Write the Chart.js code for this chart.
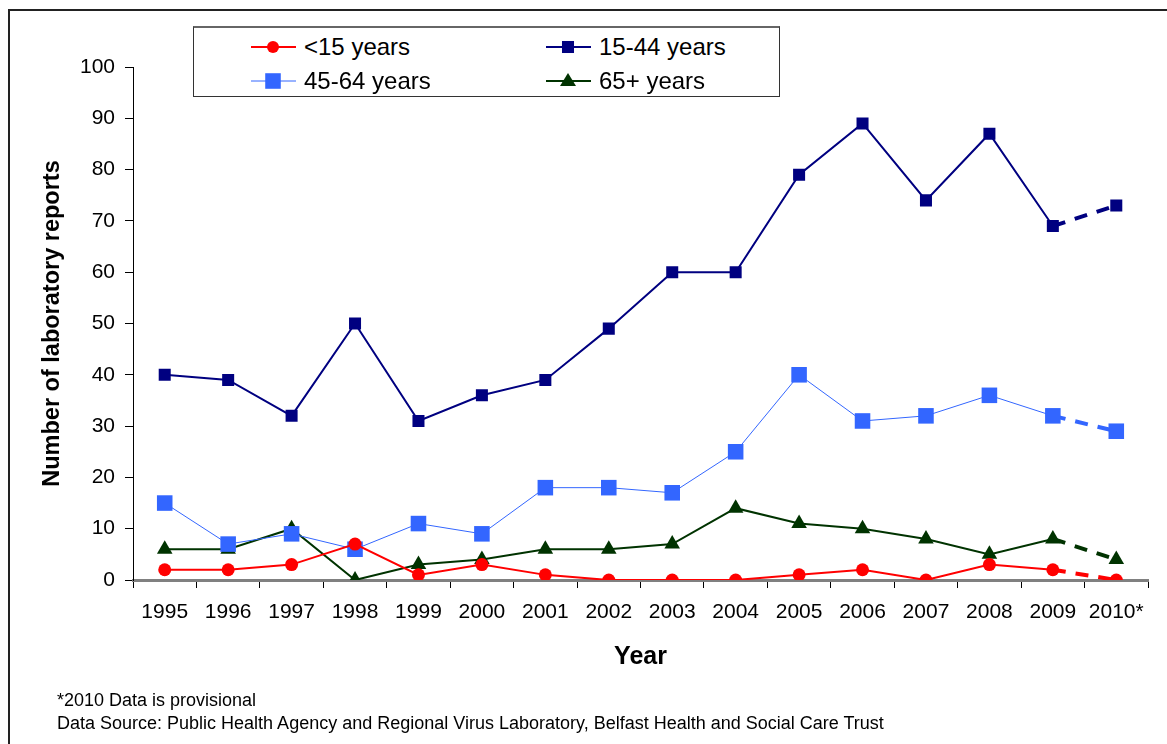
<!DOCTYPE html>
<html>
<head>
<meta charset="utf-8">
<script src="https://cdn.jsdelivr.net/npm/chart.js@4"></script>
<style>
  body { margin: 0; background: #fff; font-family: Arial, "Liberation Sans", sans-serif; }
  #wrap { position: relative; width: 1167px; height: 744px; overflow: hidden; }
  #frame { position: absolute; left: 8px; top: 9px; width: 1300px; height: 900px; border-left: 2px solid #222; border-top: 2px solid #222; }
  #legendBox { position: absolute; left: 193px; top: 26px; width: 585px; height: 68px; border: 1px solid #333; border-top: 2px solid #666; background: #fff; }
  .lg { position: absolute; font-size: 24px; color: #000; height: 34px; line-height: 34px; white-space: nowrap; }
  .lg svg { vertical-align: middle; margin-right: 8px; position: relative; top: -2px; }
  .note { position: absolute; left: 57px; font-size: 18px; color: #000; line-height: 20px; }
</style>
</head>
<body>
<div id="wrap">
  <div id="frame"></div>
  <canvas id="chart" width="1167" height="744" style="position:absolute;left:0;top:0"></canvas>
  <div id="legendBox"></div>
  <div class="note" style="top:690px">*2010 Data is provisional</div>
  <div class="note" style="top:713px">Data Source: Public Health Agency and Regional Virus Laboratory, Belfast Health and Social Care Trust</div>
</div>
<script>
const years = ["1995", "1996", "1997", "1998", "1999", "2000", "2001", "2002", "2003", "2004", "2005", "2006", "2007", "2008", "2009", "2010*"];
const under15 = [2, 2, 3, 7, 1, 3, 1, 0, 0, 0, 1, 2, 0, 3, 2, 0];
const age15to44 = [40, 39, 32, 50, 31, 36, 39, 49, 60, 60, 79, 89, 74, 87, 69, 73];
const age45to64 = [15, 7, 9, 6, 11, 9, 18, 18, 17, 25, 40, 31, 32, 36, 32, 29];
const age65plus = [6, 6, 10, 0, 3, 4, 6, 6, 7, 14, 11, 10, 8, 5, 8, 4];
const seriesNames = ["<15 years", "15-44 years", "45-64 years", "65+ years"];

const lastIdx = years.length - 1;

// provisional year gets a thick dashed segment
function provisional(width) {
  return {
    borderDash: (ctx) => (ctx.p1DataIndex === lastIdx ? [13, 10] : undefined),
    borderWidth: (ctx) => (ctx.p1DataIndex === lastIdx ? 4 : width),
  };
}

function makeSet(label, data, color, width, style, radius) {
  return {
    label: label,
    data: data,
    borderColor: color,
    backgroundColor: color,
    borderWidth: width,
    pointStyle: style,
    pointRadius: radius,
    pointBorderWidth: 0,
    pointBackgroundColor: color,
    tension: 0,
    segment: provisional(width),
  };
}

const datasets = [
  makeSet(seriesNames[0], under15, "#FF0000", 2, "circle", 6.5),
  makeSet(seriesNames[1], age15to44, "#000080", 2, "rect", 8.5),
  makeSet(seriesNames[2], age45to64, "#3366FF", 1, "rect", 11),
  makeSet(seriesNames[3], age65plus, "#003300", 2, "triangle", 9),
];

const font = "Arial, 'Liberation Sans', sans-serif";

const config = {
  type: "line",
  data: { labels: years, datasets: datasets },
  options: {
    responsive: false,
    animation: false,
    layout: { padding: { top: 67, right: 19, left: 0, bottom: 0 } },
    plugins: { legend: { display: false }, tooltip: { enabled: false } },
    scales: {
      x: {
        offset: true,
        afterFit: (s) => { s.height = 164; },
        grid: { offset: true, drawOnChartArea: false, tickLength: 8, color: "#000" },
        border: { color: "#808080", width: 3 },
        ticks: { color: "#000", font: { family: font, size: 21 }, padding: 12, maxRotation: 0 },
        title: { display: true, text: "Year", color: "#000", font: { family: font, size: 25, weight: "bold" }, padding: { bottom: 72 } },
      },
      y: {
        min: 0,
        max: 100,
        afterFit: (s) => { s.width = 133; },
        grid: { drawOnChartArea: false, tickLength: 8, color: "#000" },
        border: { color: "#000", width: 1 },
        ticks: { stepSize: 10, color: "#000", font: { family: font, size: 21 }, padding: 10 },
        title: { display: true, text: "Number of laboratory reports", color: "#000", font: { family: font, size: 23.5, weight: "bold" }, padding: { top: 38 } },
      },
    },
  },
};

const chart = new Chart(document.getElementById("chart"), config);

// legend in two columns, built from the datasets
const legendBox = document.getElementById("legendBox");
const legendPos = [[57, 2], [352, 2], [57, 36], [352, 36]];
datasets.forEach((ds, i) => {
  const item = document.createElement("div");
  item.className = "lg";
  item.style.left = legendPos[i][0] + "px";
  item.style.top = legendPos[i][1] + "px";
  let marker = "";
  if (ds.pointStyle === "circle") marker = '<circle cx="22" cy="10" r="6" fill="' + ds.borderColor + '"/>';
  else if (ds.pointStyle === "triangle") marker = '<polygon points="22,2 30,15 14,15" fill="' + ds.borderColor + '"/>';
  else {
    const half = ds.pointRadius * Math.SQRT1_2;
    marker = '<rect x="' + (22 - half) + '" y="' + (10 - half) + '" width="' + 2 * half + '" height="' + 2 * half + '" fill="' + ds.borderColor + '"/>';
  }
  item.innerHTML =
    '<svg width="45" height="20"><line x1="0" y1="10" x2="45" y2="10" stroke="' + ds.borderColor + '" stroke-width="' + ds.borderWidth + '"/>' +
    marker + "</svg>" + ds.label;
  legendBox.appendChild(item);
});
</script>
</body>
</html>
